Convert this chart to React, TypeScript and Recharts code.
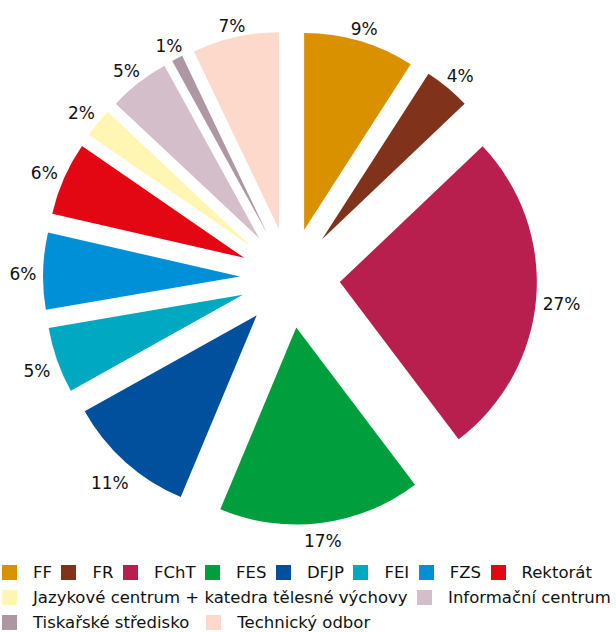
import { PieChart, Pie, Sector } from 'recharts';

const units = [
  'FF',
  'FR',
  'FChT',
  'FES',
  'DFJP',
  'FEI',
  'FZS',
  'Rektorát',
  'Jazykové centrum + katedra tělesné výchovy',
  'Informační centrum',
  'Tiskařské středisko',
  'Technický odbor',
];
const shares = [9.1, 3.8, 26.8, 16.6, 10.6, 5.4, 6.3, 6.0, 2.4, 5.0, 0.9, 7.1];
const colors = [
  '#DA9100', '#80331A', '#B81F4F', '#009E3D', '#00509E', '#00A8C1',
  '#0090D7', '#E30613', '#FFF6B3', '#D4BECA', '#AD97A3', '#FCD9CB',
];
// how many legend entries go on each line
const legendRows = [8, 2, 2];

const chartData = units.map((name, i) => ({ name, value: shares[i] }));

const RAD = Math.PI / 180;
const EXPLODE = 50;

// pulls each slice out along its mid angle and puts the % label past the arc
function ExplodedSlice(props: any) {
  const { cx, cy, outerRadius, startAngle, endAngle, midAngle, index, percent } = props;
  const c = Math.cos(-midAngle * RAD);
  const s = Math.sin(-midAngle * RAD);
  const x0 = cx + EXPLODE * c;
  const y0 = cy + EXPLODE * s;
  const text = `${Math.round(percent * 100)}%`;
  const hw = text.length * 5 + 4;
  const hh = 6.5;
  const dist = outerRadius + 6 + Math.abs(c) * hw + Math.abs(s) * hh;
  return (
    <g>
      <Sector
        cx={x0}
        cy={y0}
        innerRadius={0}
        outerRadius={outerRadius}
        startAngle={startAngle}
        endAngle={endAngle}
        fill={colors[index]}
        stroke="none"
      />
      <text
        x={x0 + dist * c}
        y={y0 + dist * s + 3.5}
        textAnchor="middle"
        dominantBaseline="central"
        fontSize={17}
        fill="#111"
      >
        {text}
      </text>
    </g>
  );
}

export default function App() {
  let k = 0;
  const rows = legendRows.map((n) => {
    const r = units.slice(k, k + n).map((_, j) => k + j);
    k += n;
    return r;
  });

  return (
    <div
      style={{
        position: 'absolute',
        left: 0,
        top: 0,
        width: 616,
        height: 632,
        background: '#fff',
        fontFamily: '"DejaVu Sans", Verdana, sans-serif',
        color: '#111',
        overflow: 'hidden',
      }}
    >
      <PieChart width={616} height={555} margin={{ top: 0, right: 0, bottom: 0, left: 0 }}>
        <Pie
          data={chartData}
          dataKey="value"
          nameKey="name"
          cx={290}
          cy={278}
          outerRadius={197}
          startAngle={90}
          endAngle={-270}
          fill="none"
          stroke="none"
          label={ExplodedSlice}
          labelLine={false}
          isAnimationActive={false}
        />
      </PieChart>
      <div style={{ position: 'absolute', left: 2, top: 560 }}>
        {rows.map((row, ri) => (
          <div key={ri} style={{ display: 'flex', alignItems: 'center', height: 25, whiteSpace: 'nowrap' }}>
            {row.map((i) => (
              <div key={units[i]} style={{ display: 'flex', alignItems: 'center', marginRight: ri === 2 ? 17 : 9.5 }}>
                <span style={{ width: 15, height: 15, background: colors[i], marginRight: 16, display: 'inline-block' }} />
                <span style={{ fontSize: 16.5 }}>{units[i]}</span>
              </div>
            ))}
          </div>
        ))}
      </div>
    </div>
  );
}
